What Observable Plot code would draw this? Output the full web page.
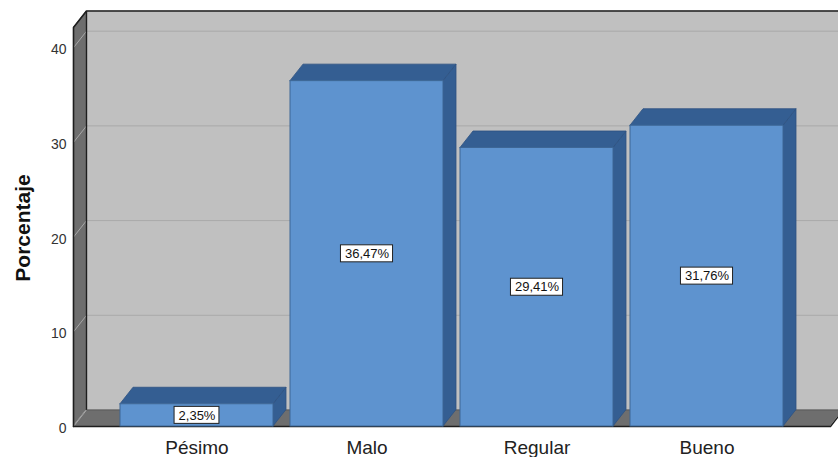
<!DOCTYPE html>
<html>
<head>
<meta charset="utf-8">
<script src="https://cdn.jsdelivr.net/npm/d3@7"></script>
<script src="https://cdn.jsdelivr.net/npm/@observablehq/plot@0.6"></script>
<style>
  html, body { margin: 0; padding: 0; background: #ffffff; }
  #chart { width: 838px; height: 457px; }
</style>
</head>
<body>
<div id="chart"></div>
<script>
// ---- data ----
const categories = ["Pésimo", "Malo", "Regular", "Bueno"];
const values = [2.35, 36.47, 29.41, 31.76];
const valueLabels = ["2,35%", "36,47%", "29,41%", "31,76%"];
const yTicks = [0, 10, 20, 30, 40];
const yTitle = "Porcentaje";

// ---- geometry (in scale units) ----
const DX = 13 / 170;      // depth offset in x
const DY = 16.5 / 9.47;   // depth offset in y
const XL = -0.7265, XR = 3.7265, H = 42.13;
const HW = 0.45;

const bars = categories.map((c, i) => ({cat: c, i, v: values[i], label: valueLabels[i]}));
const tops = bars.flatMap(d => [
  {cat: d.cat, y: d.v, x1: d.i - HW, x2: d.i + HW},
  {cat: d.cat, y: d.v + DY, x1: d.i - HW + DX, x2: d.i + HW + DX}
]);
const sides = bars.flatMap(d => [
  {cat: d.cat, x: d.i + HW, y1: 0, y2: d.v},
  {cat: d.cat, x: d.i + HW + DX, y1: DY, y2: d.v + DY}
]);

const cw = {",": 0.278, "%": 0.889};
const textW = s => [...s].reduce((a, ch) => a + (cw[ch] ?? 0.556), 0) * 13 + 8;

const dark = "#1e1e1e";
const wallGray = "#6e6e6e";

const labelBoxes = bars.map(d => Plot.rect([d], {
  x1: "i", x2: "i", y1: b => b.v / 2, y2: b => b.v / 2,
  insetLeft: -textW(d.label) / 2, insetRight: -textW(d.label) / 2,
  insetTop: -8.5, insetBottom: -8.5,
  fill: "white", stroke: "#222", strokeWidth: 1
}));

const chart = Plot.plot({
  width: 838,
  height: 457,
  marginLeft: 0, marginRight: 0, marginTop: 0, marginBottom: 0,
  style: {fontFamily: "'Liberation Sans', Arial, sans-serif", background: "white", overflow: "hidden"},
  x: {type: "linear", domain: [-0.5, 3.5], range: [111.5, 791.5], axis: null},
  y: {type: "linear", domain: [0, 40], range: [426, 47.2], axis: null},
  marks: [
    // back wall
    Plot.rect([0], {x1: () => XL + DX, x2: () => XR + DX + 0.2, y1: () => DY, y2: () => H + DY, fill: "#c0c0c0"}),
    // back gridlines
    Plot.ruleY(yTicks.filter(v => v > 0), {y: v => v + DY, x1: () => XL + DX, x2: () => XR + DX + 0.2, stroke: "#a9a9a9", strokeWidth: 1}),
    // left wall
    Plot.areaY([{x: XL, y1: 0, y2: H}, {x: XL + DX, y1: DY, y2: H + DY}], {x: "x", y1: "y1", y2: "y2", fill: wallGray}),
    // floor
    Plot.areaX([{y: 0, x1: XL, x2: XR}, {y: DY, x1: XL + DX, x2: XR + DX}], {y: "y", x1: "x1", x2: "x2", fill: wallGray}),
    // gridline diagonals on left wall
    Plot.link(yTicks, {x1: () => XL, y1: v => v, x2: () => XL + DX, y2: v => v + DY, stroke: "#a8a8a8", strokeWidth: 1}),
    // outlines
    Plot.line([{x: XL, y: 0}, {x: XL, y: H}, {x: XL + DX, y: H + DY}, {x: XR + DX + 0.2, y: H + DY}], {x: "x", y: "y", stroke: dark, strokeWidth: 1.6}),
    Plot.link([0], {x1: () => XL + DX, y1: () => DY, x2: () => XL + DX, y2: () => H + DY, stroke: dark, strokeWidth: 1.4}),
    Plot.line([{x: XL, y: 0}, {x: XR, y: 0}, {x: XR + DX, y: DY}], {x: "x", y: "y", stroke: dark, strokeWidth: 1.4}),
    Plot.link([0], {x1: () => XL + DX, y1: () => DY, x2: () => XR + DX, y2: () => DY, stroke: "#5a5a5a", strokeWidth: 1}),
    // bars: side faces, top faces, front faces
    Plot.areaY(sides, {x: "x", y1: "y1", y2: "y2", z: "cat", fill: "#345e92", stroke: "#2d5282", strokeWidth: 0.8}),
    Plot.areaX(tops, {y: "y", x1: "x1", x2: "x2", z: "cat", fill: "#345e92", stroke: "#2d5282", strokeWidth: 0.8}),
    Plot.rect(bars, {x1: d => d.i - HW, x2: d => d.i + HW, y1: () => 0, y2: "v", fill: "#5e93cf", stroke: "#3d6796", strokeWidth: 1}),
    // value label boxes
    ...labelBoxes,
    Plot.text(bars, {x: "i", y: d => d.v / 2, text: "label", fontSize: 13, fill: "#111"}),
    // y tick labels
    Plot.text(yTicks, {x: () => XL, y: v => v, text: v => String(v), textAnchor: "end", dx: -7, dy: 2, fontSize: 14, fill: "#333"}),
    // category labels
    Plot.text(bars, {x: "i", y: () => 0, text: "cat", dy: 21, fontSize: 19, fill: "#222"}),
    // y title
    Plot.text([yTitle], {frameAnchor: "left", textAnchor: "middle", dx: 22.5, dy: -1, rotate: -90, text: d => d, fontSize: 21, fontWeight: "bold", fill: "#111"})
  ]
});
document.getElementById("chart").append(chart);
</script>
</body>
</html>
